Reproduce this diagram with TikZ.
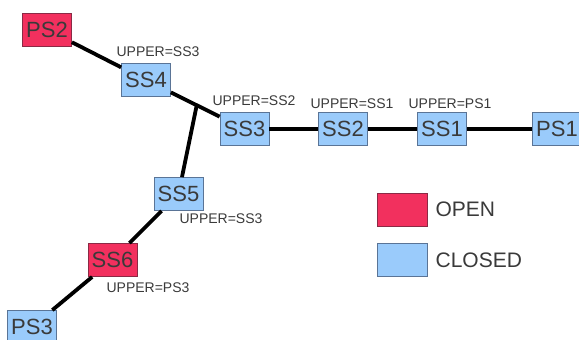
\documentclass[tikz,border=0pt]{standalone}
\usepackage{fontspec}
\setmainfont{Liberation Sans}
\usetikzlibrary{calc,positioning}
\definecolor{openred}{HTML}{F2305E}
\definecolor{openedge}{HTML}{8A2A45}
\definecolor{closedblue}{HTML}{9ACBFB}
\definecolor{closededge}{HTML}{5A7496}
\definecolor{txtgray}{HTML}{3A3A3A}

\begin{document}
\begin{tikzpicture}[x=1pt,y=-1pt,
  sw/.style={draw, minimum width=49pt, minimum height=33pt, inner sep=0pt,
    line width=0.8pt, text=txtgray, font=\fontsize{22}{24}\selectfont},
  open/.style={sw, fill=openred, draw=openedge},
  closed/.style={sw, fill=closedblue, draw=closededge},
  upper/.style={text=txtgray, font=\fontsize{14}{16}\selectfont, inner sep=0pt},
  legendtext/.style={text=txtgray, font=\fontsize{21}{24}\selectfont, inner sep=0pt},
  wire/.style={draw, line width=3.8pt}]
\useasboundingbox (0,0) rectangle (579,340);
\node[open] (PS2) at (47,29.5) {PS2};
\node[closed] (SS4) at (146,80) {SS4};
\node[closed] (SS3) at (244.5,129) {SS3};
\node[closed] (SS2) at (343,129) {SS2};
\node[closed] (SS1) at (442,129) {SS1};
\node[closed] (PS1) at (557,129) {PS1};
\node[closed] (SS5) at (178.5,194) {SS5};
\node[open] (SS6) at (112.5,260) {SS6};
\node[closed] (PS3) at (32,327) {PS3};
\coordinate (J) at ($(SS4)!0.515!(SS3)$);
% labels
\node[upper] (u4) at (158,52) {UPPER=SS3};
\node[upper] (u3) at (254,100.5) {UPPER=SS2};
\node[upper] (u2) at (352,103.5) {UPPER=SS1};
\node[upper] (u1) at (450,103.5) {UPPER=PS1};
\node[upper] (u5) at (221,219) {UPPER=SS3};
\node[upper] (u6) at (148,288) {UPPER=PS3};
% legend
\node[open, minimum width=50pt] (lo) at (402,209.5) {};
\node[closed, minimum width=50pt] (lc) at (402,260) {};
\node[legendtext, right=8pt of lo] (to) {OPEN};
\node[legendtext, right=8pt of lc] (tc) {CLOSED};
% wires
\path[wire] (PS2) -- (SS4);
\path[wire] (SS4) -- (SS3);
\path[wire] (SS3) -- (SS2);
\path[wire] (SS2) -- (SS1);
\path[wire] (SS1) -- (PS1);
\path[wire] (J) -- (SS5);
\path[wire] (SS5) -- (SS6);
\path[wire] (SS6) -- (PS3);
\end{tikzpicture}
\end{document}
